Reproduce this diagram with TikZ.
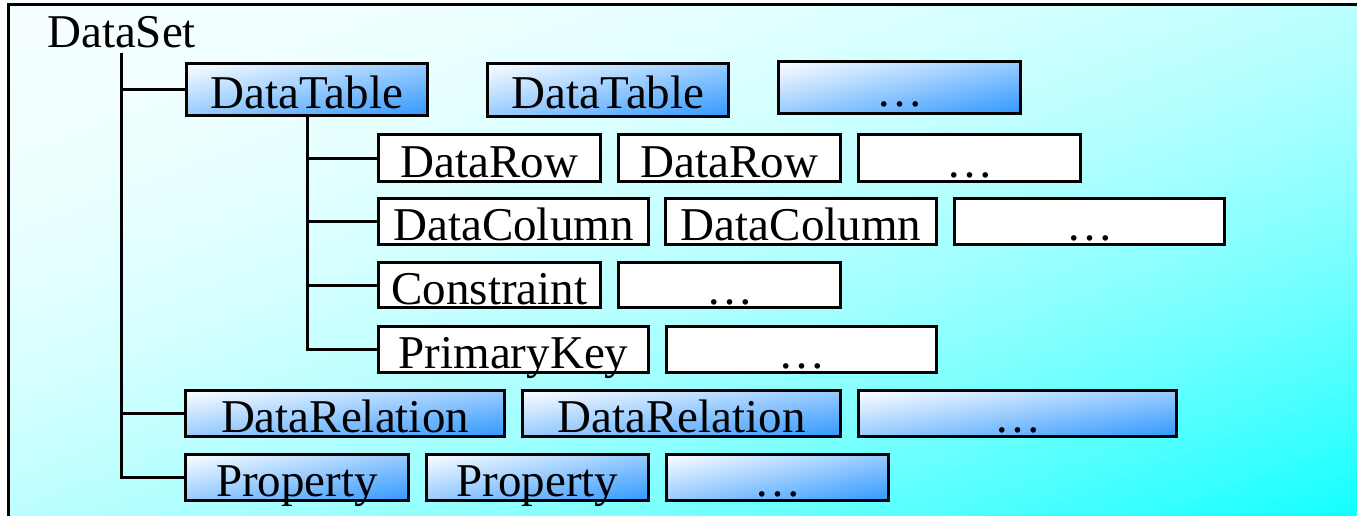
\documentclass[tikz,border=0pt]{standalone}
\usepackage{fontspec}
\setmainfont{Liberation Serif}
\definecolor{boxblue}{RGB}{51,153,255}
\definecolor{bgA}{RGB}{245,255,255}
\definecolor{bgC}{RGB}{15,255,255}
\newcommand\bluegrad{%
  \foreach \k in {0,...,59}{%
    \pgfmathsetmacro\cz{\k/30*\bw}%
    \pgfmathsetmacro\co{(\k+1.5)/30*\bw}%
    \pgfmathsetmacro\czm{\cz-\bw}%
    \pgfmathsetmacro\com{\co-\bw}%
    \pgfmathsetmacro\mx{100-100*(\k+0.5)/60}%
    \fill[white!\mx!boxblue]
      ([xshift={\cz*1pt}]path picture bounding box.north west) --
      ([xshift={\co*1pt}]path picture bounding box.north west) --
      ([xshift={\com*1pt}]path picture bounding box.south west) --
      ([xshift={\czm*1pt}]path picture bounding box.south west) -- cycle;
  }}
\tikzset{
  basebox/.style={draw=black, line width=3pt, inner xsep=0pt, inner ysep=0pt,
    text height=38pt, text depth=0pt, font=\fontsize{47}{50}\selectfont},
  bluebox/.style={basebox, fill=white, path picture={\bluegrad}},
  whitebox/.style={basebox, fill=white},
  conn/.style={line width=3pt},
  label/.style={inner sep=0pt, font=\fontsize{47}{50}\selectfont},
}
\newcommand\mybox[7]{%
  \pgfmathsetmacro\bw{#4-#3-3}\pgfmathsetmacro\bh{#6-#5-3}%
  \node[#2, minimum width={\bw*1pt}, minimum height={\bh*1pt}] (#1) at ({(#3+#4)/2},{-(#5+#6)/2}) {#7};}
\begin{document}
\begin{tikzpicture}[x=1pt,y=1pt]
\useasboundingbox (0,0) rectangle (1357,-516);
\begin{scope}
  \clip (8,-5) rectangle (1360,-520);
  \begin{scope}[shift={(8,-5)}, x=1352pt, y=-515pt]
    \foreach \k in {0,...,99}{%
      \pgfmathsetmacro\cz{\k/50}%
      \pgfmathsetmacro\co{(\k+1.5)/50}%
      \pgfmathsetmacro\mx{100-100*((\k+0.5)/100)^2}%
      \fill[bgA!\mx!bgC] (\cz,0) -- (\co,0) -- (\co-1,1) -- (\cz-1,1) -- cycle;
    }
  \end{scope}
\end{scope}
\draw[line width=3pt] (8,-520) -- (8,-5) -- (1360,-5);
\node[label, anchor=base west] (ds) at (47,-48) {DataSet};
% DataTable row
\mybox{dt1}{bluebox}{185}{429}{62}{117}{DataTable}
\mybox{dt2}{bluebox}{486}{730}{62}{118}{DataTable}
\mybox{dt3}{bluebox}{777}{1022}{60}{115}{…}
% DataRow row
\mybox{row1}{whitebox}{377}{602}{133}{183}{DataRow}
\mybox{row2}{whitebox}{617}{842}{133}{183}{DataRow}
\mybox{row3}{whitebox}{857}{1082}{133}{183}{…}
% DataColumn row
\mybox{col1}{whitebox}{377}{650}{197}{246}{DataColumn}
\mybox{col2}{whitebox}{664}{938}{197}{246}{DataColumn}
\mybox{col3}{whitebox}{953}{1226}{197}{246}{…}
% Constraint row
\mybox{con1}{whitebox}{377}{602}{261}{309}{Constraint}
\mybox{con2}{whitebox}{617}{842}{261}{309}{…}
% PrimaryKey row
\mybox{pk1}{whitebox}{377}{650}{325}{374}{PrimaryKey}
\mybox{pk2}{whitebox}{665}{938}{325}{374}{…}
% DataRelation row
\mybox{rel1}{bluebox}{184}{506}{389}{438}{DataRelation}
\mybox{rel2}{bluebox}{521}{842}{389}{438}{DataRelation}
\mybox{rel3}{bluebox}{857}{1178}{389}{438}{…}
% Property row
\mybox{pr1}{bluebox}{184}{410}{453}{502}{Property}
\mybox{pr2}{bluebox}{425}{650}{453}{502}{Property}
\mybox{pr3}{bluebox}{665}{890}{453}{502}{…}
% connectors
\draw[conn] ([yshift=-4pt]ds.south) |- (dt1.west);
\draw[conn] ([yshift=-4pt]ds.south) |- (rel1.west);
\draw[conn] ([yshift=-4pt]ds.south) |- (pr1.west);
\draw[conn] (dt1.south) |- (row1.west);
\draw[conn] (dt1.south) |- (col1.west);
\draw[conn] (dt1.south) |- (con1.west);
\draw[conn] (dt1.south) |- (pk1.west);
\end{tikzpicture}
\end{document}
